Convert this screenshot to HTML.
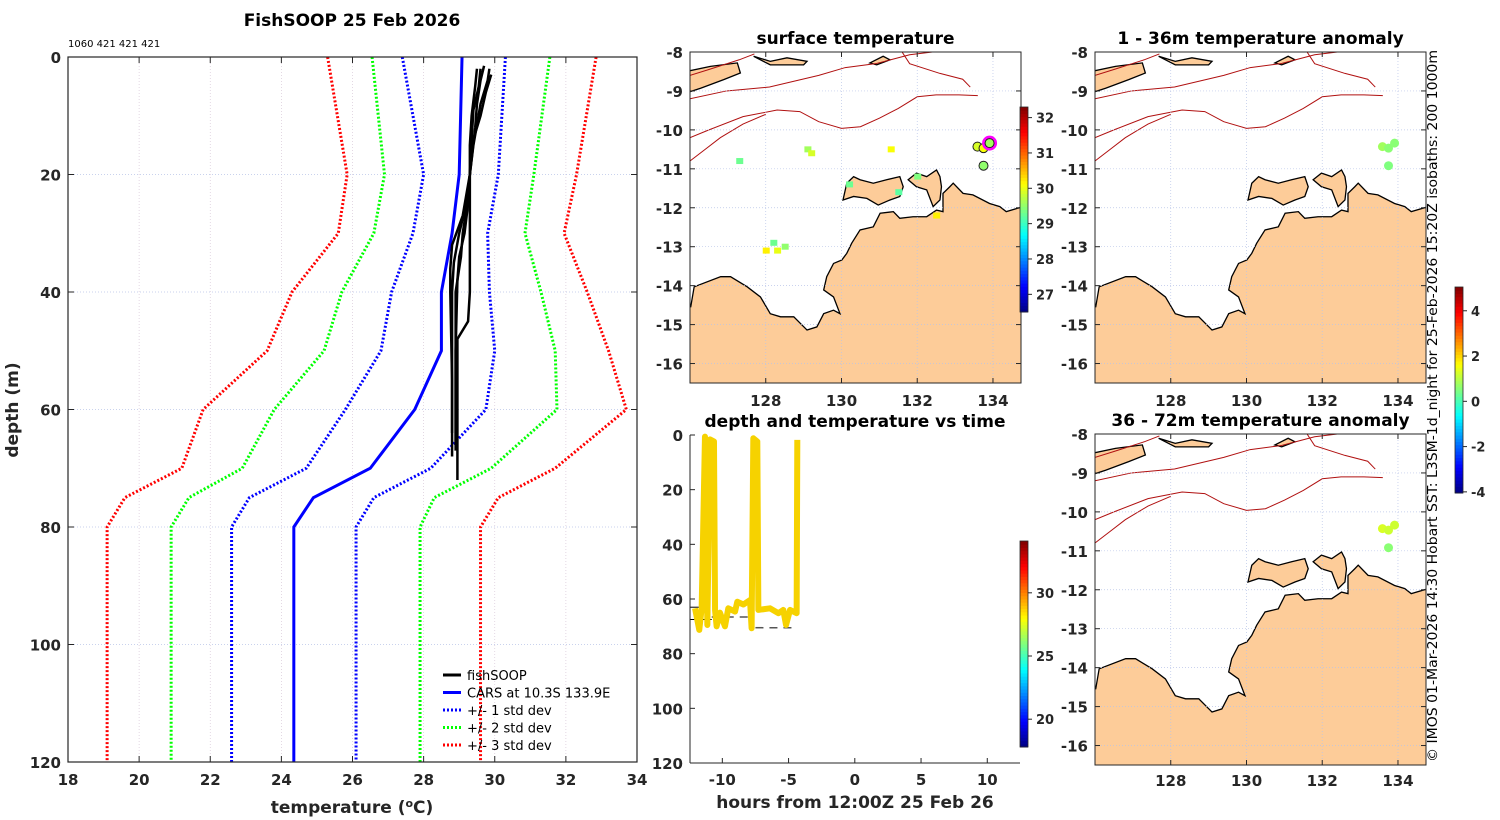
<!DOCTYPE html>
<html><head><meta charset="utf-8"><style>
body{margin:0;background:#fff}
svg{display:block;font-family:"DejaVu Sans","Liberation Sans",sans-serif}
</style></head><body>
<svg id="s" width="1500" height="820" viewBox="0 0 1500 820"></svg>
<script>
// ---- profile chart data ----
const depthLevels=[0,20,30,40,50,60,70,75,80,120];
const carsMean=[29.08,29.0,28.8,28.5,28.5,27.75,26.5,24.9,24.35,24.35];
const minus1=[27.4,28.0,27.7,27.1,26.8,25.8,24.7,23.1,22.6,22.6];
const plus1=[30.3,30.1,29.8,29.85,30.0,29.75,28.2,26.6,26.1,26.1];
const minus2=[26.55,26.9,26.6,25.7,25.2,23.8,22.9,21.4,20.9,20.9];
const plus2=[31.55,31.1,30.85,31.3,31.7,31.75,29.9,28.3,27.9,27.9];
const minus3=[25.3,25.85,25.6,24.3,23.6,21.8,21.2,19.6,19.1,19.1];
const plus3=[32.85,32.3,31.95,32.6,33.2,33.7,31.7,30.1,29.6,29.6];
const profDepths=[[2,5,10,15,20,25,30,35,40,50,60,64],[1.5,4,8,12,20,25,30,40,45,48,60,70,72],[2,4,8,15,20,27,32,36,40,55,68],[3,6,10,15,20,26,30,34,40,60,67],[2,5,9,14,20,25,30,34,38,50,66]];
const profTemps=[[29.5,29.45,29.35,29.3,29.3,29.2,29.0,28.85,28.8,28.8,28.8,28.8],[29.7,29.6,29.5,29.45,29.3,29.3,29.3,29.3,29.25,28.95,28.95,28.95,28.95],[29.85,29.8,29.6,29.4,29.3,29.1,28.8,28.75,28.75,28.8,28.8],[29.9,29.75,29.6,29.35,29.3,29.2,29.1,29.05,28.9,28.9,28.9],[29.6,29.55,29.4,29.35,29.3,29.25,29.15,29.0,28.95,28.9,28.9]];
const tempTicks=[18,20,22,24,26,28,30,32,34];
const depthTicks=[0,20,40,60,80,100,120];
// ---- depth vs time data ----
const hours=[-12.06,-11.74,-11.56,-11.31,-11.13,-10.93,-10.63,-10.55,-10.43,-10.18,-9.8,-9.55,-9.04,-8.87,-8.41,-7.91,-7.79,-7.66,-7.36,-7.28,-6.4,-5.77,-5.4,-5.19,-4.89,-4.39,-4.34];
const tdepth=[63.4,71.3,63.4,0.6,69.5,1.6,2.4,64,70,65,70,63.4,64.6,61,62,60.4,70.7,1.2,2.4,64,63.4,65.2,64,69.5,64,65.2,1.8];
const hourTicks=[-10,-5,0,5,10];
// ---- map data ----
const latTicks=[-8,-9,-10,-11,-12,-13,-14,-15,-16];
const lonTicks=[128,130,132,134];
const obsLon=[133.59,133.75,133.91,133.75];
const obsLat=[-10.43,-10.47,-10.34,-10.92];
const sstObs=[29.9,30.1,29.6,29.5];
const anomTop=[0.8,0.6,0.6,0.5];
const anomBot=[1.3,1.2,1.2,0.6];

const S=document.getElementById('s');
const NS='http://www.w3.org/2000/svg';
function el(t,a,p){const e=document.createElementNS(NS,t);for(const k in a)e.setAttribute(k,a[k]);(p||S).appendChild(e);return e;}
function txt(x,y,s,a,p){const e=el('text',Object.assign({x:x,y:y,'font-size':15,'font-weight':'bold',fill:'#262626'},a||{}),p);e.textContent=s;return e;}
function jet(v){v=Math.max(0,Math.min(1,v));const r=Math.max(0,Math.min(1,1.5-Math.abs(4*v-3))),g=Math.max(0,Math.min(1,1.5-Math.abs(4*v-2))),b=Math.max(0,Math.min(1,1.5-Math.abs(4*v-1)));return `rgb(${r*255|0},${g*255|0},${b*255|0})`;}

// ===== profile chart =====
const PL=68,PR=637,PT=57,PB=762;
const px=t=>PL+(t-18)/16*(PR-PL), py=d=>PT+d/120*(PB-PT);
const g1=el('g',{});
tempTicks.forEach(t=>{if(t>18&&t<34)el('line',{x1:px(t),x2:px(t),y1:PT,y2:PB,stroke:'#d8c8d8','stroke-width':0.7,'stroke-dasharray':'1 2'},g1);});
depthTicks.forEach(d=>{if(d>0&&d<120)el('line',{x1:PL,x2:PR,y1:py(d),y2:py(d),stroke:'#b8c4e8','stroke-width':0.7,'stroke-dasharray':'1 2'},g1);});
function poly(T,D,a,p,name){const e=el('polyline',Object.assign({points:T.map((t,i)=>px(t)+','+py(D[i])).join(' '),fill:'none'},a),p);return e;}
const dot={'stroke-width':3,'stroke-dasharray':'2 2'};
poly(minus3,depthLevels,Object.assign({stroke:'#f00'},dot),g1,'minus-3-std-line');
poly(plus3,depthLevels,Object.assign({stroke:'#f00'},dot),g1,'plus-3-std-line');
poly(minus2,depthLevels,Object.assign({stroke:'#0f0'},dot),g1,'minus-2-std-line');
poly(plus2,depthLevels,Object.assign({stroke:'#0f0'},dot),g1,'plus-2-std-line');
poly(minus1,depthLevels,Object.assign({stroke:'#00f'},dot),g1,'minus-1-std-line');
poly(plus1,depthLevels,Object.assign({stroke:'#00f'},dot),g1,'plus-1-std-line');
poly(carsMean,depthLevels,{stroke:'#00f','stroke-width':3},g1,'cars-mean-line');
profTemps.forEach((T,i)=>poly(T,profDepths[i],{stroke:'#000','stroke-width':2.5},g1,'fishsoop-profile'));
el('rect',{x:PL,y:PT,width:PR-PL,height:PB-PT,fill:'none',stroke:'#262626','stroke-width':1.2},g1);
tempTicks.forEach(t=>{el('line',{x1:px(t),x2:px(t),y1:PB,y2:PB-6,stroke:'#262626'},g1);el('line',{x1:px(t),x2:px(t),y1:PT,y2:PT+6,stroke:'#262626'},g1);
 const l=txt(px(t),785,String(t),{'text-anchor':'middle'},g1);});
depthTicks.forEach(d=>{el('line',{x1:PL,x2:PL+6,y1:py(d),y2:py(d),stroke:'#262626'},g1);el('line',{x1:PR,x2:PR-6,y1:py(d),y2:py(d),stroke:'#262626'},g1);
 const l=txt(61,py(d)+6,String(d),{'text-anchor':'end'},g1);});
let t1=txt(352,26,'FishSOOP 25 Feb 2026',{'text-anchor':'middle','font-size':17,fill:'#000'});
let t2=txt(68,47,'1060 421 421 421',{'font-size':10,'font-weight':'normal',fill:'#000'});
let xt=el('text',{x:352,y:813,'font-size':17,'font-weight':'bold',fill:'#262626','text-anchor':'middle'});xt.innerHTML='temperature (<tspan dy="-6" font-size="11">o</tspan><tspan dy="6">C)</tspan>';
let yt=txt(0,0,'depth (m)',{'text-anchor':'middle','font-size':17,transform:'translate(18,410) rotate(-90)'});
const legItems=[['fishSOOP','#000',''],['CARS at 10.3S 133.9E','#00f',''],['+/- 1 std dev','#00f','2 2'],['+/- 2 std dev','#0f0','2 2'],['+/- 3 std dev','#f00','2 2']];
const lg=el('g',{});
legItems.forEach((it,i)=>{const y=675+i*17.5;const e=el('g',{},lg);
 el('line',{x1:443,x2:461,y1:y,y2:y,stroke:it[1],'stroke-width':3,'stroke-dasharray':it[2]},e);txt(467,y+5,it[0],{'font-size':13,'font-weight':'normal',fill:'#000'},e);});

// ===== maps =====
const LON0=126.0,LON1=134.74,LAT0=-8,LAT1=-16.5;
const land=[[126.02,-14.54],[126.11,-14.03],[126.81,-13.77],[127.07,-13.77],[127.51,-14.03],[127.86,-14.29],[128.12,-14.72],[128.39,-14.8],[128.74,-14.8],[129.09,-15.14],[129.35,-15.06],[129.53,-14.72],[129.79,-14.63],[129.96,-14.72],[129.79,-14.29],[129.53,-14.11],[129.61,-13.77],[129.79,-13.43],[130.01,-13.34],[130.14,-13.17],[130.27,-12.91],[130.49,-12.57],[130.84,-12.49],[131.02,-12.14],[131.37,-12.1],[131.54,-12.27],[131.89,-12.23],[132.25,-12.23],[132.51,-12.06],[132.68,-12.1],[132.68,-11.63],[132.86,-11.46],[132.95,-11.37],[133.21,-11.63],[133.47,-11.67],[133.91,-11.89],[134.18,-11.97],[134.35,-12.1],[134.8,-11.97],[134.8,-16.6],[125.9,-16.6],[125.9,-14.54]];
const melville=[[130.04,-11.8],[130.14,-11.37],[130.32,-11.2],[130.49,-11.28],[130.84,-11.37],[131.19,-11.28],[131.54,-11.2],[131.63,-11.46],[131.54,-11.71],[131.28,-11.8],[130.97,-11.93],[130.67,-11.76],[130.32,-11.71]];
const cobourg=[[131.76,-11.28],[131.98,-11.11],[132.25,-11.2],[132.51,-11.03],[132.6,-11.2],[132.64,-11.46],[132.6,-11.8],[132.42,-11.97],[132.25,-11.54],[131.98,-11.46]];
const timor=[[125.9,-8.5],[126.54,-8.37],[127.25,-8.28],[127.33,-8.54],[126.89,-8.71],[126.28,-8.93],[125.9,-9.05]];
const isl1=[[127.68,-8.11],[128.12,-8.24],[128.56,-8.15],[129.09,-8.24],[129.0,-8.33],[128.12,-8.33]];
const isl2=[[130.75,-8.28],[131.1,-8.11],[131.28,-8.2],[130.93,-8.33]];
const iso=[
 [[126.0,-9.2],[126.96,-9.0],[128.1,-8.9],[129.4,-8.6],[130.1,-8.4],[130.9,-8.3],[131.3,-8.2],[131.8,-8.07],[132.4,-8.0]],
 [[126.0,-10.2],[126.5,-10.0],[127.4,-9.66],[128.3,-9.49],[128.9,-9.53],[129.4,-9.79],[130.0,-9.96],[130.5,-9.92],[131.0,-9.7],[131.5,-9.45],[132.0,-9.15],[132.5,-9.1],[133.1,-9.1],[133.6,-9.12]],
 [[126.0,-10.8],[126.4,-10.5],[126.8,-10.2],[127.4,-9.85],[128.0,-9.6]],
 [[126.0,-8.6],[126.5,-8.45],[127.3,-8.2],[127.7,-8.05]],
 [[131.6,-8.0],[131.8,-8.3],[132.6,-8.55],[133.2,-8.7],[133.4,-8.9]]];
const speck=[[129.1,-10.5,29.6],[129.2,-10.6,29.9],[128.3,-13.1,30.0],[128.0,-13.1,30.2],[128.5,-13.0,29.5],[128.2,-12.9,29.3],[130.2,-11.4,29.3],[131.5,-11.6,29.2],[132.0,-11.2,29.4],[132.5,-12.2,30.2],[127.3,-10.8,29.3],[131.3,-10.5,30.1]];
function makeMap(x0,y0,w,h,title,name,tickBottom){
 const g=el('g',{});
 const X=l=>x0+(l-LON0)/(LON1-LON0)*w, Y=a=>y0+(LAT0-a)/(LAT0-LAT1)*h;
 const cid='c'+name;const cp=el('clipPath',{id:cid},g);el('rect',{x:x0,y:y0,width:w,height:h},cp);
 const inner=el('g',{'clip-path':'url(#'+cid+')'},g);
 const P=arr=>arr.map(p=>X(p[0])+','+Y(p[1])).join(' ');
 [land,melville,cobourg,timor,isl1,isl2].forEach(a=>{const e=el('polygon',{points:P(a),fill:'#fdcc99',stroke:'#000','stroke-width':1.3},inner);});
 iso.forEach(a=>{const e=el('polyline',{points:P(a),fill:'none',stroke:'#b01010','stroke-width':1},inner);});
 latTicks.forEach(a=>el('line',{x1:x0,x2:x0+w,y1:Y(a),y2:Y(a),stroke:'#b8c4e8','stroke-width':0.7,'stroke-dasharray':'1 2'},inner));
 lonTicks.forEach(l=>el('line',{x1:X(l),x2:X(l),y1:y0,y2:y0+h,stroke:'#b8c4e8','stroke-width':0.7,'stroke-dasharray':'1 2'},inner));
 el('rect',{x:x0,y:y0,width:w,height:h,fill:'none',stroke:'#262626'},g);
 latTicks.forEach(a=>{el('line',{x1:x0,x2:x0+5,y1:Y(a),y2:Y(a),stroke:'#262626'},g);el('line',{x1:x0+w,x2:x0+w-5,y1:Y(a),y2:Y(a),stroke:'#262626'},g);
  const l=txt(x0-7,Y(a)+6,String(a),{'text-anchor':'end'},g);});
 lonTicks.forEach(l=>{el('line',{x1:X(l),x2:X(l),y1:y0+h,y2:y0+h-5,stroke:'#262626'},g);el('line',{x1:X(l),x2:X(l),y1:y0,y2:y0+5,stroke:'#262626'},g);
  const t=txt(X(l),tickBottom,String(l),{'text-anchor':'middle'},g);});
 const tt=txt(x0+w/2,y0-8,title,{'text-anchor':'middle','font-size':17,fill:'#000'});
 return {g:g,inner:inner,X:X,Y:Y};
}
const m1=makeMap(690,52,331,331,'surface temperature','sst-map',406);
const sc=v=>jet((v-26.5)/(32.3-26.5));
speck.forEach(s=>{const e=el('rect',{x:m1.X(s[0])-3,y:m1.Y(s[1])-3,width:7,height:6,fill:sc(s[2])},m1.inner);});
obsLon.forEach((l,i)=>{if(i==2)el('circle',{cx:m1.X(l),cy:m1.Y(obsLat[i]),r:6,fill:'none',stroke:'#f0f','stroke-width':3},m1.inner);
 const c=el('circle',{cx:m1.X(l),cy:m1.Y(obsLat[i]),r:4.5,fill:sc(sstObs[i]),stroke:'#222','stroke-width':1},m1.inner);});
const m2=makeMap(1095,52,331,331,'1 - 36m temperature anomaly','anomaly-map-shallow',406);
const m3=makeMap(1095,434,331,331,'36 - 72m temperature anomaly','anomaly-map-deep',786);
const ac=v=>jet((v+4.05)/9.1);
obsLon.forEach((l,i)=>{const c=el('circle',{cx:m2.X(l),cy:m2.Y(obsLat[i]),r:4.5,fill:ac(anomTop[i])},m2.inner);
 const d=el('circle',{cx:m3.X(l),cy:m3.Y(obsLat[i]),r:4.5,fill:ac(anomBot[i])},m3.inner);});

// ===== depth vs time =====
const TL=690,TR=1020,TT=435,TB=763,H0=-12.44,H1=12.47;
const tx=h=>TL+(h-H0)/(H1-H0)*(TR-TL), ty=d=>TT+d/120*(TB-TT);
const g3=el('g',{});
el('line',{x1:TL,x2:tx(-11.7),y1:ty(63),y2:ty(63),stroke:'#000'},g3);
el('line',{x1:TL,x2:tx(-10.8),y1:ty(67.5),y2:ty(67.5),stroke:'#000'},g3);
el('line',{x1:tx(-10.8),x2:tx(-7.7),y1:ty(66.6),y2:ty(66.6),stroke:'#555','stroke-width':1.5,'stroke-dasharray':'8 6'},g3);
el('line',{x1:tx(-7.5),x2:tx(-4.4),y1:ty(70.5),y2:ty(70.5),stroke:'#555','stroke-width':1.5,'stroke-dasharray':'8 6'},g3);
const trace=el('polyline',{points:hours.map((h,i)=>tx(h)+','+ty(tdepth[i])).join(' '),fill:'none',stroke:'#f6d200','stroke-width':6,'stroke-linejoin':'round'},g3);

el('line',{x1:TL,x2:TL,y1:TT,y2:TB,stroke:'#262626'},g3);el('line',{x1:TL,x2:TR,y1:TB,y2:TB,stroke:'#262626'},g3);
hourTicks.forEach(h=>{el('line',{x1:tx(h),x2:tx(h),y1:TB,y2:TB-5,stroke:'#262626'},g3);const l=txt(tx(h),785,String(h),{'text-anchor':'middle'},g3);});
depthTicks.forEach(d=>{el('line',{x1:TL,x2:TL+5,y1:ty(d),y2:ty(d),stroke:'#262626'},g3);const l=txt(683,ty(d)+6,String(d),{'text-anchor':'end'},g3);});
let dtt=txt(855,427,'depth and temperature vs time',{'text-anchor':'middle','font-size':17,fill:'#000'});
let dtx=txt(855,808,'hours from 12:00Z 25 Feb 26',{'text-anchor':'middle','font-size':17});

// ===== colorbars =====
function cbar(x,y0,y1,vmin,vmax,ticks,name){
 const g=el('g',{});
 const n=64,h=(y1-y0)/n;for(let i=0;i<n;i++)el('rect',{x:x,y:y1-(i+1)*h,width:8,height:h+0.5,fill:jet((i+0.5)/n)},g);
 el('rect',{x:x,y:y0,width:8,height:y1-y0,fill:'none',stroke:'#262626','stroke-width':0.8},g);
 ticks.forEach(t=>{const y=y1-(t-vmin)/(vmax-vmin)*(y1-y0);el('line',{x1:x+8,x2:x+12,y1:y,y2:y,stroke:'#262626'},g);txt(x+16,y+5,String(t),{'font-size':13},g);});
}
cbar(1020,107,312,26.5,32.3,[27,28,29,30,31,32],'sst-colorbar');
cbar(1020,541,747,17.8,34.1,[20,25,30],'depth-time-colorbar');
cbar(1455,287,493,-4.05,5.05,[-4,-2,0,2,4],'anomaly-colorbar');
let cr=txt(0,0,'© IMOS 01-Mar-2026 14:30 Hobart SST: L3SM-1d_night for 25-Feb-2026 15:20Z isobaths: 200  1000m',{'font-size':13,'font-weight':'normal',fill:'#000',textLength:712,lengthAdjust:'spacingAndGlyphs',transform:'translate(1437,762) rotate(-90)'});

</script>
</body></html>
